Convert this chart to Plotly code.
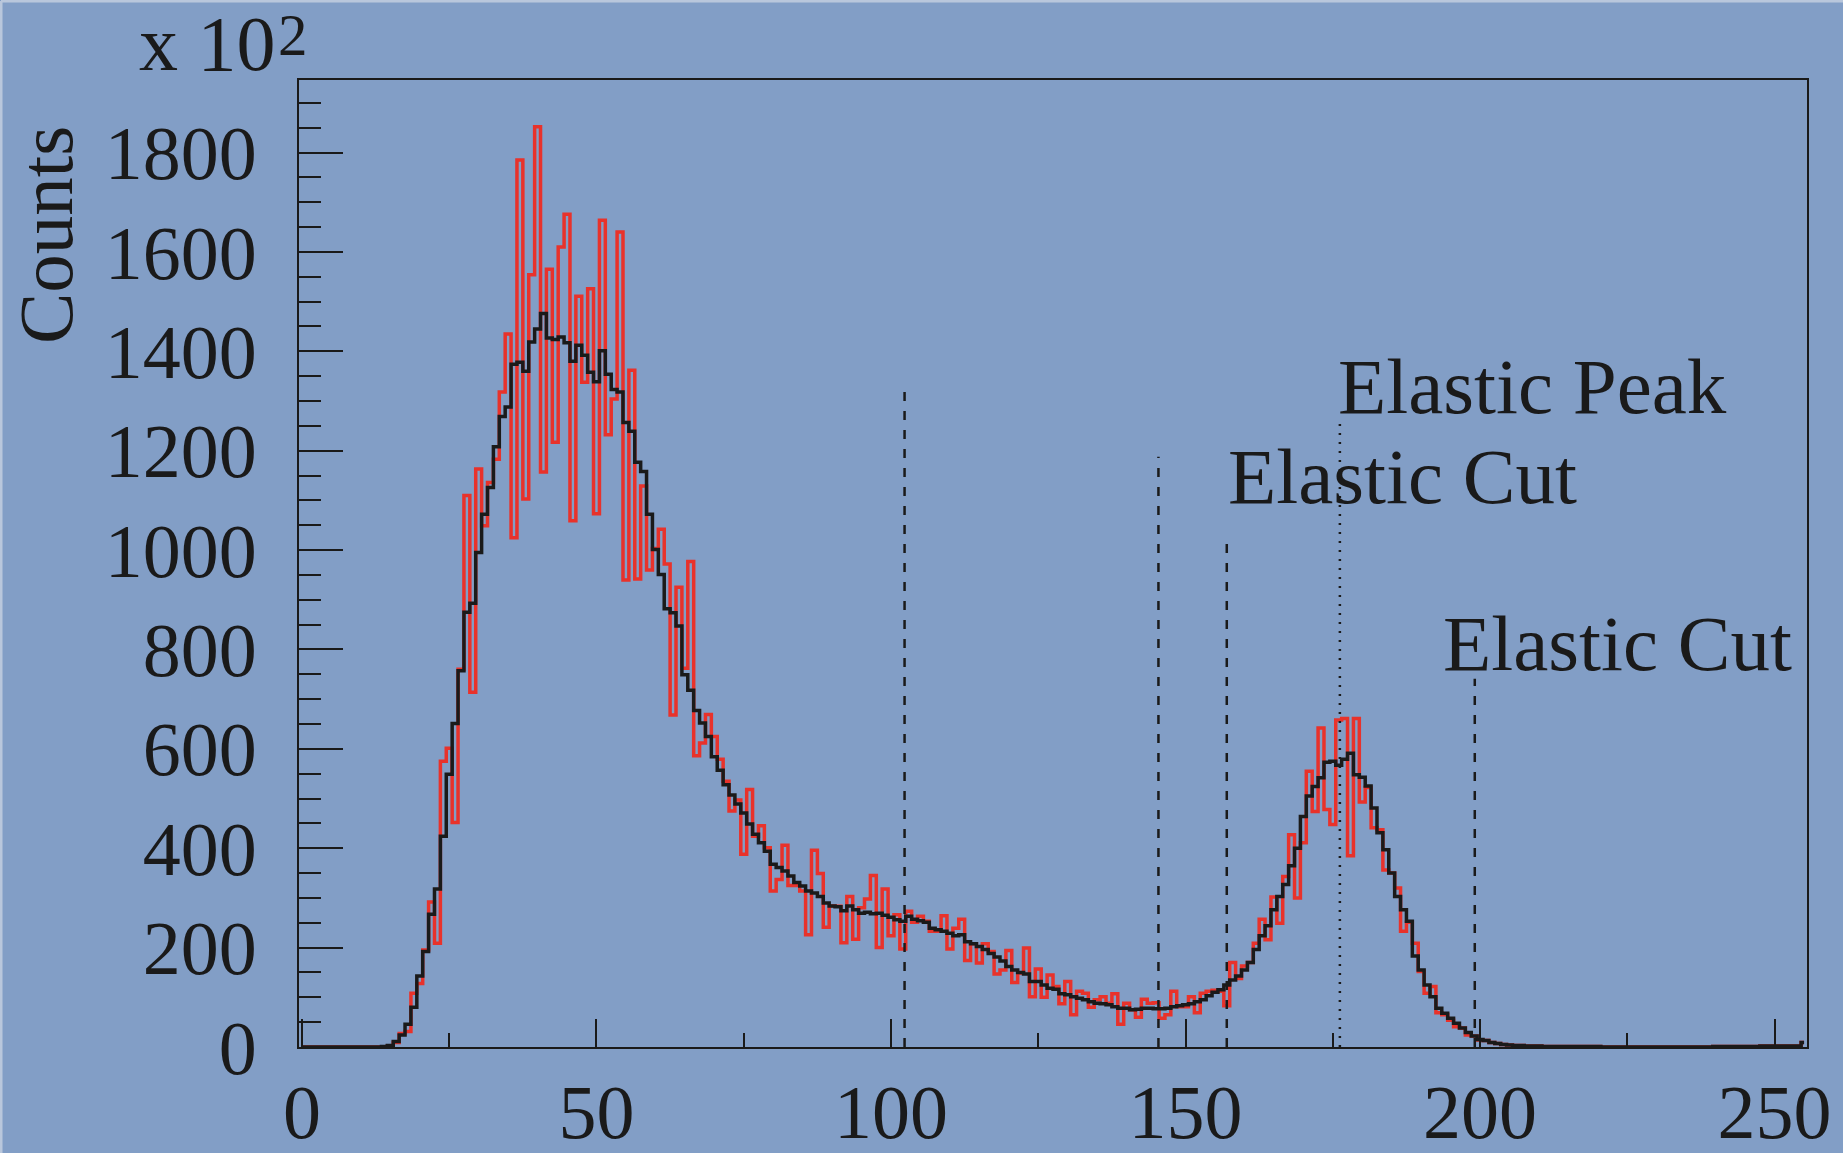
import plotly.graph_objects as go

# ADC channel spectrum: raw counts (red) and corrected counts (black), in units of 10^2
channels = list(range(256))

raw_counts = [
    0, 0, 0, 0, 0, 0, 0, 0, 0, 0, 0, 0, 0, 0, 0,
    2, 9, 27, 31, 108, 128, 195, 292, 209, 575, 601, 452, 760, 1110, 714,
    1163, 1049, 1136, 1183, 1318, 1435, 1025, 1785, 1103, 1554, 1852, 1157, 1565, 1217, 1610,
    1676, 1059, 1511, 1338, 1526, 1073, 1664, 1232, 1304, 1640, 940, 1362, 942, 1129, 960,
    1003, 1042, 972, 668, 925, 762, 977, 586, 612, 669, 625, 579, 535, 475, 497,
    388, 518, 424, 445, 401, 314, 337, 406, 325, 325, 314, 226, 396, 349, 241,
    284, 283, 210, 303, 217, 280, 298, 345, 200, 318, 224, 266, 197, 273, 251,
    263, 253, 233, 233, 264, 197, 239, 257, 174, 208, 169, 208, 192, 147, 155,
    194, 130, 149, 199, 101, 157, 100, 145, 122, 87, 132, 65, 112, 108, 80,
    95, 101, 88, 107, 46, 88, 75, 60, 96, 88, 89, 58, 65, 112, 81,
    81, 101, 69, 108, 112, 114, 112, 83, 170, 138, 163, 170, 209, 257, 216,
    302, 249, 343, 427, 300, 411, 555, 474, 642, 478, 448, 658, 661, 385, 661,
    493, 522, 441, 437, 356, 350, 320, 233, 251, 209, 152, 108, 122, 69, 65,
    54, 41, 38, 24, 22, 14, 13, 9, 7, 5, 4, 3, 3, 2, 2,
    2, 1, 1, 1, 1, 1, 1, 1, 1, 1, 1, 0, 0, 0, 0,
    0, 0, 0, 0, 0, 0, 0, 0, 0, 0, 0, 0, 0, 0, 0,
    1, 1, 1, 1, 1, 1, 1, 1, 2, 2, 2, 2, 2, 2, 2,
    9,
]

corrected_counts = [
    0, 0, 0, 0, 0, 0, 0, 0, 0, 0, 0, 0, 0, 0, 1,
    3, 11, 24, 46, 80, 143, 192, 267, 318, 424, 549, 651, 757, 875, 893,
    995, 1072, 1126, 1208, 1269, 1288, 1374, 1378, 1360, 1419, 1445, 1476, 1427, 1424, 1429,
    1417, 1380, 1412, 1392, 1358, 1339, 1401, 1354, 1323, 1318, 1257, 1239, 1177, 1158, 1072,
    1001, 951, 882, 874, 847, 749, 718, 677, 652, 625, 584, 557, 528, 507, 489,
    471, 449, 428, 411, 394, 368, 361, 354, 344, 331, 324, 314, 310, 303, 290,
    284, 282, 274, 284, 276, 269, 271, 268, 269, 265, 261, 256, 253, 263, 257,
    254, 251, 239, 236, 233, 229, 224, 226, 212, 208, 202, 196, 188, 181, 173,
    162, 155, 150, 147, 132, 132, 125, 118, 116, 107, 105, 101, 98, 95, 91,
    88, 87, 85, 81, 78, 78, 75, 76, 78, 78, 77, 77, 78, 81, 83,
    85, 87, 91, 95, 103, 110, 115, 125, 135, 143, 155, 170, 196, 224, 244,
    276, 303, 327, 365, 400, 464, 505, 524, 542, 573, 575, 567, 579, 591, 548,
    543, 525, 481, 431, 397, 350, 303, 276, 253, 183, 155, 125, 101, 78, 68,
    58, 48, 38, 29, 22, 15, 13, 9, 7, 5, 4, 3, 3, 2, 2,
    2, 1, 1, 1, 1, 1, 1, 1, 1, 1, 1, 0, 0, 0, 0,
    0, 0, 0, 0, 0, 0, 0, 0, 0, 0, 0, 0, 0, 0, 0,
    1, 1, 1, 1, 1, 1, 1, 1, 2, 2, 2, 2, 2, 2, 2,
    9,
]

# Cut markers: channel position and line height (counts)
cut_channels = [102.3, 145.4, 157.0, 199.1]
cut_heights = [1336, 1188, 1024, 741]
peak_channel = 176.2
peak_height = 1256

x_ticks = [0, 50, 100, 150, 200, 250]
y_ticks = [0, 200, 400, 600, 800, 1000, 1200, 1400, 1600, 1800]

# Label text with anchor position (channel, counts)
labels = ["Elastic Peak", "Elastic Cut", "Elastic Cut"]
label_channels = [175.5, 156.8, 193.3]
label_counts = [1330, 1149, 813]

BG = "#829ec6"
INK = "#1a1a1a"
FONT = "Liberation Serif"

W, H = 1843, 1153
L, R, T, B = 299, 36, 80, 106
PW, PH = W - L - R, H - T - B


def px_to_paper(px, py):
    """Convert canvas pixel coordinates to plot-area paper coordinates."""
    return (px - L) / PW, (H - B - py) / PH


fig = go.Figure()

fig.add_trace(go.Scatter(
    x=channels, y=raw_counts, mode="lines",
    line=dict(color="#e8322b", width=3.5, shape="hvh"),
    showlegend=False,
))
fig.add_trace(go.Scatter(
    x=channels, y=corrected_counts, mode="lines",
    line=dict(color=INK, width=3.5, shape="hvh"),
    showlegend=False,
))

# Dashed cut lines and the dotted peak line
for cx, h in zip(cut_channels, cut_heights):
    fig.add_shape(type="line", xref="x", yref="y", x0=cx, x1=cx, y0=0, y1=h,
                  line=dict(color=INK, width=2.5, dash="9px,10px"))
fig.add_shape(type="line", xref="x", yref="y", x0=peak_channel, x1=peak_channel,
              y0=0, y1=peak_height, line=dict(color=INK, width=2.5, dash="2px,7px"))

for txt, cx, cy in zip(labels, label_channels, label_counts):
    fig.add_annotation(text=txt, x=cx, y=cy, xref="x", yref="y",
                       xanchor="left", yanchor="middle", showarrow=False,
                       font=dict(family=FONT, size=79, color=INK))

# Axis title and the exponent of the y scale
cx, cy = px_to_paper(46, 235)
fig.add_annotation(text="Counts", x=cx, y=cy,
                   xref="paper", yref="paper", textangle=-90,
                   xanchor="center", yanchor="middle", showarrow=False,
                   font=dict(family=FONT, size=77, color=INK))
ex, ey = px_to_paper(137, 44)
fig.add_annotation(text="x 10", x=ex, y=ey,
                   xref="paper", yref="paper",
                   xanchor="left", yanchor="middle", showarrow=False,
                   font=dict(family=FONT, size=78, color=INK))
sx, sy = px_to_paper(276, 35)
fig.add_annotation(text="2", x=sx, y=sy,
                   xref="paper", yref="paper",
                   xanchor="left", yanchor="middle", showarrow=False,
                   font=dict(family=FONT, size=59, color=INK))

# Light edge along the top and left of the canvas
x_left, y_top = px_to_paper(1, 1)
x_right, y_bottom = px_to_paper(W, H)
fig.add_shape(type="line", xref="paper", yref="paper", x0=x_left, x1=x_left,
              y0=y_bottom, y1=y_top, line=dict(color="#b9c7dc", width=3), layer="above")
fig.add_shape(type="line", xref="paper", yref="paper", x0=x_left, x1=x_right,
              y0=y_top, y1=y_top, line=dict(color="#b9c7dc", width=3), layer="above")

axis_common = dict(
    showgrid=False, zeroline=False,
    showline=True, linecolor=INK, linewidth=2, mirror=True,
    ticks="inside", tickcolor=INK, tickwidth=2,
    tickfont=dict(family=FONT, size=76, color=INK),
)

fig.update_layout(
    width=W, height=H,
    margin=dict(l=L, r=R, t=T, b=B, autoexpand=False),
    paper_bgcolor=BG, plot_bgcolor=BG,
    font=dict(family=FONT, color=INK),
    xaxis=dict(range=[-0.5, 255.5], tickmode="array", tickvals=x_ticks,
               ticklen=28, ticklabelstandoff=-2,
               minor=dict(dtick=25, tick0=0, ticks="inside",
                          ticklen=14, tickwidth=2, tickcolor=INK),
               **axis_common),
    yaxis=dict(range=[0, 1946], tickmode="array", tickvals=y_ticks,
               ticklen=44, ticklabelstandoff=25,
               minor=dict(dtick=50, tick0=0, ticks="inside",
                          ticklen=22, tickwidth=2, tickcolor=INK),
               **axis_common),
)

fig.write_html("out.html")
